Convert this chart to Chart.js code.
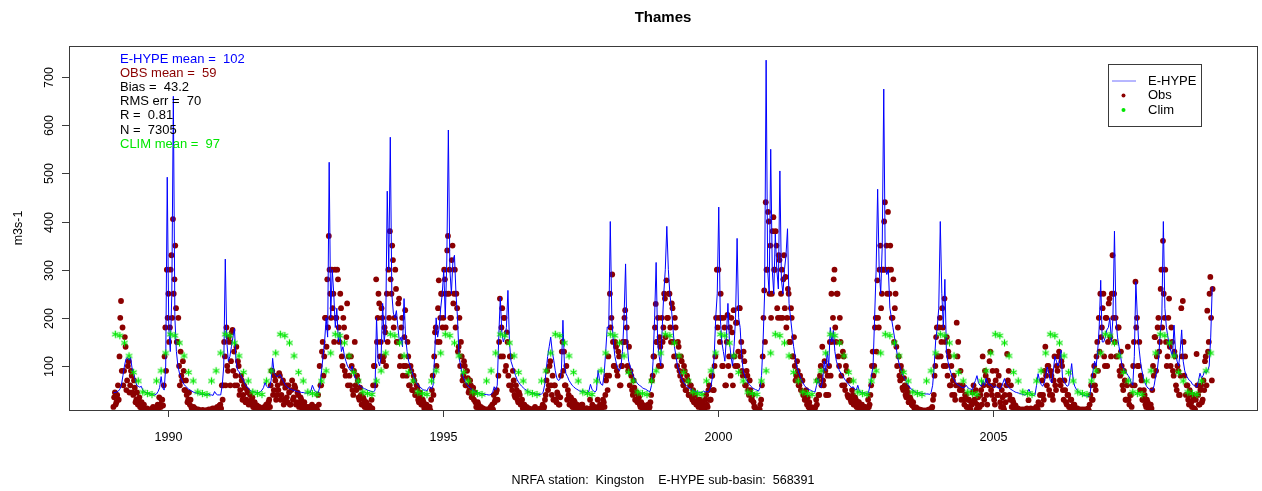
<!DOCTYPE html>
<html>
<head>
<meta charset="utf-8">
<script src="https://cdn.jsdelivr.net/npm/chart.js@4.4.1/dist/chart.umd.min.js"></script>
<style>
html,body{margin:0;padding:0;background:#fff;}
#wrap{width:1262px;height:491px;position:relative;}
canvas{display:block;}
</style>
</head>
<body>
<div id="wrap"><canvas id="c" width="1262" height="491"></canvas></div>
<script>
// ---------------- DATA ----------------
const startYear = 1989;
const years = [1989,1990,1991,1992,1993,1994,1995,1996,1997,1998,1999,2000,2001,2002,2003,2004,2005,2006,2007,2008];

// E-HYPE simulated discharge, ~10-day samples (36 per year), m3/s
const ehypeByYear = [
[45,45,46,48,52,60,80,100,115,118,112,118,95,85,72,60,58,56,58,50,47,45,44,43,42,41,40,40,42,47,55,78,55,50,100,492],
[180,130,250,660,200,130,100,85,75,68,62,58,55,52,50,48,46,45,44,43,42,42,41,41,40,40,42,40,40,39,47,42,40,40,40,60],
[100,322,150,110,120,140,160,178,110,92,88,82,75,70,62,57,54,50,48,47,46,46,45,45,47,50,55,66,58,55,56,70,116,85,80,78],
[80,82,75,68,62,58,55,53,52,50,50,48,47,46,46,45,45,44,44,43,44,48,60,52,47,45,46,60,90,120,150,200,160,523,200,300],
[250,180,220,150,170,130,140,120,110,100,95,90,100,85,75,70,65,60,57,55,53,52,50,49,48,47,46,50,200,110,100,120,230,150,180,463],
[300,575,250,210,200,215,180,150,160,140,240,160,130,110,100,90,80,72,66,60,57,55,52,50,50,48,55,57,52,60,120,200,160,180,220,250],
[300,200,320,590,300,250,320,330,250,200,120,100,85,75,68,62,58,55,52,50,48,46,45,44,43,42,42,41,41,40,40,41,45,57,50,60],
[160,243,170,150,160,180,257,150,110,100,90,80,72,66,62,58,55,52,50,48,46,45,44,43,42,42,41,41,42,45,60,90,120,140,160,130],
[112,90,75,70,72,90,195,100,84,78,70,65,60,57,54,52,50,48,47,50,46,45,44,48,62,52,48,46,50,91,70,62,60,84,130,181],
[180,400,200,150,120,105,95,90,100,130,200,312,150,110,100,90,80,72,67,63,60,58,55,53,52,50,48,47,60,110,200,315,150,120,100,180],
[250,300,390,300,250,220,180,140,120,100,90,80,72,66,62,58,55,53,52,50,48,47,46,46,45,45,48,46,47,46,50,60,80,120,200,250],
[430,200,150,130,110,160,230,150,120,100,140,200,365,200,180,120,90,80,72,66,62,58,55,53,51,50,48,55,80,150,250,735,300,250,550,300],
[250,374,300,260,505,280,250,300,330,385,230,200,170,140,120,100,90,80,72,66,60,56,53,51,50,48,47,46,60,74,60,55,70,110,90,130],
[100,180,150,174,130,110,100,90,85,80,75,70,66,62,58,55,57,52,50,60,48,46,45,44,44,43,45,60,80,100,200,300,467,300,250,350],
[675,300,290,300,220,200,180,160,140,120,105,95,85,78,72,66,60,56,52,50,48,46,45,44,44,43,43,42,42,42,41,45,60,100,154,180],
[220,400,250,180,280,130,110,95,85,78,72,66,62,60,58,56,55,56,60,55,53,52,51,62,70,80,65,60,58,70,60,75,65,60,62,58],
[55,58,56,54,52,56,65,74,62,58,55,52,50,48,46,45,44,43,42,41,40,40,45,52,45,40,39,40,60,84,70,62,58,65,80,98],
[85,70,65,90,120,110,100,110,133,75,68,62,58,60,80,105,70,58,52,48,45,42,40,39,38,38,37,40,70,90,110,100,130,180,278,150],
[150,160,175,180,200,150,200,380,200,160,140,120,100,95,90,85,80,75,65,60,120,275,200,140,110,90,75,65,58,54,52,50,50,60,80,90],
[120,170,200,400,220,180,160,140,130,120,185,130,110,100,130,175,110,90,80,75,70,68,62,60,58,56,70,85,75,80,90,85,90,100,160,265]
];

// Observed discharge (NRFA Kingston), first reading in each ~10-day slot, m3/s
const obsEarlyByYear = [
[15,45,25,60,120,235,180,90,140,70,110,60,80,40,55,30,20,35,15,10,20,8,12,6,10,7,15,12,8,20,35,15,30,60,180,300],
[250,180,330,405,280,220,150,100,130,70,90,50,40,30,20,15,10,8,7,8,6,8,6,7,6,8,6,8,10,12,10,8,15,12,20,60],
[60,120,180,90,150,110,175,130,80,60,100,50,70,40,55,30,45,25,20,35,15,12,18,10,8,12,8,15,20,10,30,60,90,50,70,40],
[50,80,40,70,30,60,25,45,20,70,35,55,25,40,20,30,12,25,15,10,8,12,20,10,8,15,40,100,60,150,120,200,280,370,250,300],
[250,300,200,280,150,220,100,180,80,230,120,60,100,40,150,50,70,30,40,20,30,15,20,10,15,30,60,100,280,200,230,150,200,120,170,250],
[300,380,250,320,200,260,150,240,120,200,100,216,80,120,60,90,50,70,40,55,25,35,20,25,12,20,10,15,30,80,120,180,150,278,200,250],
[200,280,250,370,300,200,350,250,180,220,140,100,120,80,100,60,75,50,60,40,30,25,15,20,10,8,12,8,6,10,8,15,20,40,30,50],
[80,240,180,120,200,100,150,60,120,50,70,35,50,25,40,20,12,20,10,8,12,6,10,8,15,6,10,8,12,20,15,40,90,60,110,40],
[30,60,25,40,20,80,150,130,60,30,40,20,30,15,25,10,15,8,12,20,10,8,12,6,30,10,8,15,8,30,10,20,15,25,40,80],
[120,250,200,150,100,140,80,120,60,100,150,216,180,90,60,80,40,55,30,25,35,15,20,12,15,10,20,15,40,80,120,229,150,100,140,200],
[180,240,278,200,250,150,220,120,180,100,140,80,110,60,90,50,70,40,60,30,25,40,20,15,30,12,20,10,40,15,60,30,80,50,120,300],
[300,150,200,100,180,60,206,120,80,170,216,100,190,130,220,150,80,110,60,80,40,50,30,25,15,10,8,10,30,120,257,440,300,400,350,250],
[409,300,350,200,320,250,200,330,285,200,250,150,200,120,100,80,90,60,50,70,40,30,20,15,10,8,12,10,30,70,40,100,140,60,90,40],
[40,150,250,200,300,150,250,100,150,60,120,50,90,35,70,25,40,20,30,15,25,12,20,10,15,8,30,20,60,130,100,200,278,180,350,250],
[300,440,350,420,250,300,200,150,250,100,120,70,90,50,60,35,45,25,30,18,15,10,12,8,6,8,6,5,8,6,10,8,15,40,100,180],
[120,200,150,180,240,100,80,120,60,40,80,30,190,150,50,30,60,20,40,15,30,10,20,60,25,10,35,15,50,120,30,80,20,60,130,40],
[60,20,90,40,60,15,35,10,25,125,90,30,15,25,10,8,12,6,8,10,6,8,12,29,8,6,10,8,15,10,20,40,70,30,140,60],
[100,40,80,30,120,50,90,130,60,100,30,50,20,40,15,30,10,20,8,12,6,10,8,6,10,8,12,20,60,30,100,50,150,200,250,180],
[250,100,200,150,240,120,330,250,200,120,180,80,100,50,70,30,140,20,40,60,150,275,200,100,50,70,30,40,15,25,10,20,50,80,160,120],
[200,150,300,360,200,150,120,240,100,150,80,120,50,90,40,220,235,80,40,60,20,40,15,30,10,125,40,20,60,30,50,120,215,150,285,70]
];

// Observed discharge, second reading in each ~10-day slot (other end of the daily spread), m3/s
const obsLateByYear = [
[35,20,40,30,200,90,60,160,50,100,45,90,45,70,25,45,30,15,25,8,12,10,6,9,7,12,8,6,15,10,20,30,18,120,90,200],
[150,300,200,250,350,150,200,60,80,110,50,70,25,45,30,10,15,12,5,10,8,5,9,6,8,5,10,6,7,8,12,10,10,18,12,30],
[150,60,100,160,60,170,90,60,140,110,40,80,30,60,25,50,20,40,30,15,25,8,10,15,12,6,14,10,10,25,15,90,40,80,30,60],
[85,30,65,20,55,35,60,20,50,30,60,20,45,15,35,12,22,10,8,15,12,6,10,15,12,8,20,60,130,80,200,140,180,300,200,220],
[150,200,300,180,250,120,200,90,160,60,80,120,50,90,60,80,35,55,20,35,15,25,10,18,8,12,100,60,150,250,120,220,110,180,100,150],
[200,280,350,180,300,150,230,100,180,80,160,100,150,60,100,50,80,40,60,30,45,20,30,12,20,10,15,8,50,40,170,100,220,150,250,180],
[300,180,340,250,200,320,230,300,250,130,200,150,70,110,60,90,45,70,35,55,45,15,25,10,15,12,6,10,9,6,12,8,10,25,45,30],
[150,120,220,200,90,170,80,120,60,90,40,60,30,45,20,30,20,10,15,12,6,10,8,12,8,10,6,12,8,10,30,70,50,100,60,80],
[60,30,45,20,35,130,90,60,100,50,20,35,15,28,12,20,8,14,20,10,6,12,8,10,12,20,12,8,14,12,20,10,30,15,70,50],
[80,180,290,100,150,90,130,60,100,150,200,150,100,140,90,50,70,30,45,40,20,25,12,18,10,15,12,25,70,120,180,150,200,160,100,150],
[250,160,200,250,180,230,150,200,120,150,90,120,70,100,50,80,40,60,35,50,40,20,30,25,15,25,10,30,20,50,30,80,50,100,200,180],
[200,250,100,200,60,150,100,180,200,60,120,190,100,220,120,90,130,60,90,50,70,30,40,15,10,6,10,20,60,200,150,300,420,250,200,380],
[300,380,220,330,200,300,280,220,180,260,150,220,120,160,70,110,60,80,70,40,30,50,35,25,15,12,8,15,20,40,80,60,70,110,40,80],
[100,80,150,280,180,250,120,200,80,130,60,100,40,70,30,50,20,35,15,25,10,20,12,15,8,12,15,40,100,80,180,130,200,300,220,300],
[400,300,250,300,350,200,280,220,140,180,80,100,55,75,40,55,25,35,20,25,10,14,8,10,9,6,8,7,6,9,7,12,30,80,160,120],
[180,120,220,100,150,160,130,60,100,70,40,60,120,60,90,50,30,40,15,30,12,25,45,30,50,20,15,40,20,60,90,40,70,110,50,90],
[30,70,40,80,25,50,15,40,60,70,40,60,30,10,18,12,8,10,6,7,10,5,8,10,12,9,6,12,8,25,40,20,40,90,80,100],
[50,90,40,70,60,100,120,70,110,50,70,25,40,15,30,12,20,8,12,6,9,7,10,8,6,10,8,40,30,80,60,120,90,130,160,220],
[120,200,100,230,160,250,200,150,120,180,90,130,60,90,30,60,30,40,15,100,60,180,100,150,80,30,50,20,30,12,20,12,100,160,90,180],
[130,260,180,250,300,100,200,140,180,90,130,60,100,40,80,120,150,120,60,30,50,25,40,12,30,60,20,50,25,70,110,60,130,250,200,260]
];

// Monthly climatology (Jan..Dec), repeated for every year of the record
const climMonthly = [166,163,148,121,87,69,46,43,41,69,90,127];

// Axis ticks and texts
const xTicks = [1990,1995,2000,2005];
const yTicks = [100,200,300,400,500,600,700];
const chartTitle = 'Thames';
const yTitle = 'm3s-1';
const bottomText = 'NRFA station:  Kingston    E-HYPE sub-basin:  568391';
const statTexts = ['E-HYPE mean =  102','OBS mean =  59','Bias =  43.2','RMS err =  70','R =  0.81','N =  7305','CLIM mean =  97'];
const statColors = ['#0000FF','#8B0000','#000000','#000000','#000000','#000000','#00E600'];
const legendLabels = ['E-HYPE','Obs','Clim'];

// ---------------- BUILD ----------------
const COL_MODEL = '#0000FF', COL_OBS = '#8B0000', COL_CLIM = '#00E600';
const FONT = '"Liberation Sans", Arial, Helvetica, sans-serif';

function rowsToPoints(rows, frac) {
  const pts = [];
  rows.forEach((row, yi) => {
    row.forEach((v, i) => pts.push({x: startYear + yi + (i + frac) / row.length, y: v}));
  });
  return pts;
}
const obsPoints = rowsToPoints(obsEarlyByYear, 0.25).concat(rowsToPoints(obsLateByYear, 0.75));
const climPoints = [];
years.forEach(yr => climMonthly.forEach((v, m) => climPoints.push({x: yr + (m + 0.5) / 12, y: v})));

// asterisk glyph (R pch = "*") used as the point style of the Clim series
const starImg = document.createElement('canvas');
starImg.width = 9; starImg.height = 9;
(function () {
  const g = starImg.getContext('2d');
  g.strokeStyle = COL_CLIM;
  g.lineWidth = 1.1;
  g.lineCap = 'round';
  const c = 4.5, r = 3.2;
  for (let k = 0; k < 3; k++) {
    const ang = Math.PI / 2 + k * Math.PI / 3;
    g.beginPath();
    g.moveTo(c + r * Math.cos(ang), c + r * Math.sin(ang));
    g.lineTo(c - r * Math.cos(ang), c - r * Math.sin(ang));
    g.stroke();
  }
})();

const decorPlugin = {
  id: 'decor',
  beforeDraw(chart) {
    const ctx = chart.ctx;
    ctx.save();
    ctx.fillStyle = '#ffffff';
    ctx.fillRect(0, 0, chart.width, chart.height);
    ctx.restore();
  },
  afterDraw(chart) {
    const ctx = chart.ctx;
    const a = chart.chartArea;
    const xs = chart.scales.x, ys = chart.scales.y;
    ctx.save();
    // box
    ctx.strokeStyle = '#3a3a3a';
    ctx.lineWidth = 1;
    ctx.strokeRect(Math.round(a.left) + 0.5, Math.round(a.top) + 0.5, Math.round(a.right - a.left), Math.round(a.bottom - a.top));
    // x ticks
    ctx.fillStyle = '#000';
    ctx.font = '12.5px ' + FONT;
    ctx.textAlign = 'center';
    ctx.textBaseline = 'alphabetic';
    xTicks.forEach(v => {
      const px = Math.round(xs.getPixelForValue(v)) + 0.5;
      ctx.beginPath(); ctx.moveTo(px, a.bottom); ctx.lineTo(px, a.bottom + 7); ctx.stroke();
      ctx.fillText(String(v), px, a.bottom + 31);
    });
    // y ticks (labels parallel to axis, R style)
    yTicks.forEach(v => {
      const py = Math.round(ys.getPixelForValue(v)) + 0.5;
      ctx.beginPath(); ctx.moveTo(a.left, py); ctx.lineTo(a.left - 7, py); ctx.stroke();
      ctx.save();
      ctx.translate(a.left - 16, py);
      ctx.rotate(-Math.PI / 2);
      ctx.fillText(String(v), 0, 0);
      ctx.restore();
    });
    // y title
    ctx.save();
    ctx.translate(22, (a.top + a.bottom) / 2);
    ctx.rotate(-Math.PI / 2);
    ctx.font = '12.5px ' + FONT;
    ctx.fillText(yTitle, 0, 0);
    ctx.restore();
    // title
    ctx.font = 'bold 15px ' + FONT;
    ctx.fillText(chartTitle, (a.left + a.right) / 2, 22);
    // bottom text
    ctx.font = '12.5px ' + FONT;
    ctx.fillText(bottomText, (a.left + a.right) / 2, 484);
    // stats
    ctx.textAlign = 'left';
    ctx.textBaseline = 'middle';
    ctx.font = '13px ' + FONT;
    statTexts.forEach((t, i) => {
      ctx.fillStyle = statColors[i];
      ctx.fillText(t, 120, 59.5 + i * 14.1);
    });
    // legend
    const lx = 1108, ly = 64, lw = 93, lh = 62;
    ctx.strokeStyle = '#3a3a3a';
    ctx.strokeRect(lx + 0.5, ly + 0.5, lw, lh);
    const rowsY = [81, 95.5, 110];
    ctx.strokeStyle = '#6f6fff';
    ctx.lineWidth = 1;
    ctx.beginPath(); ctx.moveTo(1112, rowsY[0]); ctx.lineTo(1136, rowsY[0]); ctx.stroke();
    ctx.fillStyle = COL_OBS;
    ctx.beginPath(); ctx.arc(1123.5, rowsY[1], 2, 0, Math.PI * 2); ctx.fill();
    ctx.fillStyle = COL_CLIM;
    ctx.beginPath(); ctx.arc(1123.5, rowsY[2], 2, 0, Math.PI * 2); ctx.fill();
    ctx.fillStyle = '#000';
    legendLabels.forEach((t, i) => ctx.fillText(t, 1148, rowsY[i]));
    ctx.restore();
  }
};

new Chart(document.getElementById('c'), {
  type: 'scatter',
  data: {
    datasets: [
      {label: 'Obs', data: obsPoints, showLine: false, pointRadius: 2.9, pointHoverRadius: 2.9,
       pointBorderWidth: 0, backgroundColor: COL_OBS, borderColor: COL_OBS, order: 3},
      {label: 'E-HYPE', data: rowsToPoints(ehypeByYear, 0.5), showLine: true, borderColor: COL_MODEL, borderWidth: 1,
       pointRadius: 0, pointHoverRadius: 0, tension: 0, order: 2},
      {label: 'Clim', data: climPoints, showLine: false, pointStyle: starImg, pointRadius: 4, pointHoverRadius: 4,
       borderColor: COL_CLIM, backgroundColor: COL_CLIM, order: 1}
    ]
  },
  options: {
    responsive: false,
    animation: false,
    devicePixelRatio: 1,
    events: [],
    layout: {padding: {left: 69, top: 46, right: 4, bottom: 81}},
    plugins: {legend: {display: false}, title: {display: false}, tooltip: {enabled: false}},
    scales: {
      x: {type: 'linear', min: 1988.2, max: 2009.8, display: false},
      y: {type: 'linear', min: 8.7, max: 764.4, display: false}
    }
  },
  plugins: [decorPlugin]
});
</script>
</body>
</html>
